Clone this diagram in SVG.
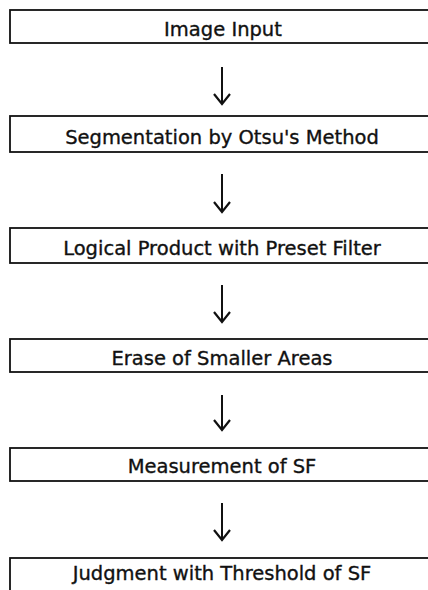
<svg xmlns="http://www.w3.org/2000/svg" width="428" height="590" viewBox="0 0 428 590">
  <style>
    .box { fill: #ffffff; stroke: #111111; stroke-width: 1.8; }
    .label { font-family: "DejaVu Sans", "Noto Sans", sans-serif; font-size: 19.5px; fill: #111111; stroke: #111111; stroke-width: 0.35; text-anchor: middle; }
    .flow { stroke: #111111; stroke-width: 2; fill: none; }
  </style>
  <defs>
    <!-- open V head, drawn pointing along +x so orient="auto" turns it down the line -->
    <marker id="head" markerUnits="userSpaceOnUse" markerWidth="14" markerHeight="20" refX="12" refY="10" orient="auto" viewBox="0 0 14 20">
      <polyline points="2,2 12,10 2,18" fill="none" stroke="#111111" stroke-width="2.2" stroke-linejoin="miter"/>
    </marker>
  </defs>
  <rect width="428" height="590" fill="#ffffff"/>

  <g id="connectors">
    <line class="flow" x1="222" y1="67" x2="222" y2="104" marker-end="url(#head)"/>
    <line class="flow" x1="222" y1="174" x2="222" y2="212" marker-end="url(#head)"/>
    <line class="flow" x1="222" y1="285" x2="222" y2="322" marker-end="url(#head)"/>
    <line class="flow" x1="222" y1="395" x2="222" y2="430" marker-end="url(#head)"/>
    <line class="flow" x1="222" y1="503" x2="222" y2="540" marker-end="url(#head)"/>
  </g>

  <g id="image-input">
    <rect class="box" x="10" y="10" width="430" height="33"/>
    <text class="label" x="223" y="36">Image Input</text>
  </g>
  <g id="segmentation">
    <rect class="box" x="10" y="116" width="430" height="36"/>
    <text class="label" x="222" y="144">Segmentation by Otsu's Method</text>
  </g>
  <g id="logical-product">
    <rect class="box" x="10" y="228" width="430" height="35"/>
    <text class="label" x="222" y="255">Logical Product with Preset Filter</text>
  </g>
  <g id="erase-areas">
    <rect class="box" x="10" y="339" width="430" height="33"/>
    <text class="label" x="222" y="365">Erase of Smaller Areas</text>
  </g>
  <g id="measurement">
    <rect class="box" x="10" y="448" width="430" height="33"/>
    <text class="label" x="222" y="473">Measurement of SF</text>
  </g>
  <g id="judgment">
    <rect class="box" x="10" y="558" width="430" height="40"/>
    <text class="label" x="222" y="580">Judgment with Threshold of SF</text>
  </g>
</svg>
